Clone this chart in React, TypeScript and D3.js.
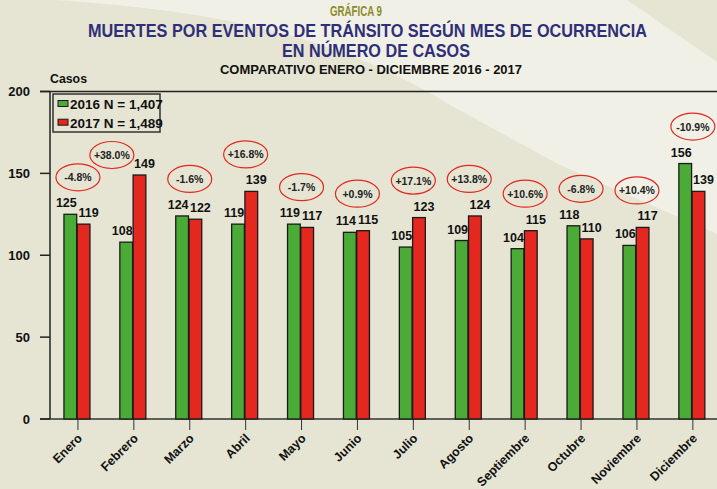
import React from "react";
import * as d3 from "d3";

const months = ["Enero", "Febrero", "Marzo", "Abril", "Mayo", "Junio", "Julio", "Agosto", "Septiembre", "Octubre", "Noviembre", "Diciembre"];
const values2016 = [125, 108, 124, 119, 119, 114, 105, 109, 104, 118, 106, 156];
const values2017 = [119, 149, 122, 139, 117, 115, 123, 124, 115, 110, 117, 139];
const seriesNames = ["2016", "2017"];
const yTicks = [0, 50, 100, 150, 200];

const W = 717;
const H = 489;
const GREEN = "#4aac36";
const RED = "#e4271f";
const NAVY = "#2f2f79";
const OLIVE = "#8c8b2c";
const BG_DARK = "#e6e5d3";
const BG_LIGHT = "#f1f0e6";
const FONT = "'Liberation Sans', Arial, sans-serif";
const NARROW = "'Liberation Sans Narrow', 'Arial Narrow', 'Liberation Sans', Arial, sans-serif";

export default function App() {
  const plotLeft = 50;
  const plotTop = 91.5;
  const plotBottom = 419;
  const y = d3.scaleLinear().domain([0, 200]).range([plotBottom, plotTop]);
  const x = d3.scaleBand<string>().domain(months).range([plotLeft, plotLeft + 12 * 55.9]).padding(0);
  const inner = d3.scaleBand<string>().domain(seriesNames).range([-14, 12]).paddingInner(0.04);
  const series = [values2016, values2017];
  const colors = [GREEN, RED];
  const totals = series.map((s) => d3.sum(s));
  const fmt = d3.format(",");

  const legend = { x: 53, y: 94, w: 107, h: 38 };

  const center = (m: string) => (x(m) as number) + x.bandwidth() / 2;

  const bgPath = d3.path();
  bgPath.moveTo(57, 0);
  bgPath.bezierCurveTo(200, 10, 330, 30, 450, 105);
  bgPath.lineTo(560, 165);
  bgPath.lineTo(717, 234);
  bgPath.lineTo(717, 62);
  bgPath.lineTo(627, 0);
  bgPath.closePath();

  const rx = 22;
  const ry = 13.5;

  return (
    <svg width={W} height={H} style={{ position: "absolute", left: 0, top: 0 }} fontFamily={FONT}>
      <rect x={0} y={0} width={W} height={H} fill={BG_DARK} />
      <path d={bgPath.toString()} fill={BG_LIGHT} />

      {/* Titles */}
      <text x={356} y={16} textAnchor="middle" fontFamily={NARROW} fontWeight="bold" fontSize={14} fill={OLIVE} textLength={52} lengthAdjust="spacingAndGlyphs">GRÁFICA 9</text>
      <text x={367.5} y={37} textAnchor="middle" fontFamily={NARROW} fontWeight="bold" fontSize={18} fill={NAVY} textLength={559} lengthAdjust="spacingAndGlyphs">MUERTES POR EVENTOS DE TRÁNSITO SEGÚN MES DE OCURRENCIA</text>
      <text x={376} y={57} textAnchor="middle" fontFamily={NARROW} fontWeight="bold" fontSize={18} fill={NAVY} textLength={188} lengthAdjust="spacingAndGlyphs">EN NÚMERO DE CASOS</text>
      <text x={371} y={74} textAnchor="middle" fontFamily={NARROW} fontWeight="bold" fontSize={12.5} fill="#111" textLength={302} lengthAdjust="spacingAndGlyphs">COMPARATIVO ENERO - DICIEMBRE 2016 - 2017</text>
      <text x={50} y={83} fontFamily={NARROW} fontWeight="bold" fontSize={12.5} fill="#111" textLength={37} lengthAdjust="spacingAndGlyphs">Casos</text>

      {/* Axes */}
      <line x1={40} x2={W} y1={y(200)} y2={y(200)} stroke="#222" strokeWidth={1.5} />
      <line x1={plotLeft} x2={plotLeft} y1={y(200)} y2={plotBottom} stroke="#222" strokeWidth={1.5} />
      <line x1={40} x2={W} y1={plotBottom} y2={plotBottom} stroke="#333" strokeWidth={1.5} />
      {yTicks.map((t) => (
        <g key={t}>
          <line x1={40} x2={plotLeft} y1={y(t)} y2={y(t)} stroke="#222" strokeWidth={1.5} />
          <text x={30} y={y(t) + 4.5} textAnchor="end" fontWeight="bold" fontSize={13} fill="#111">{t}</text>
        </g>
      ))}
      {months.map((m) => (
        <g key={m}>
          <line x1={center(m)} x2={center(m)} y1={plotBottom} y2={plotBottom + 11} stroke="#333" strokeWidth={1} />
          <text transform={`translate(${center(m) + 5},${plotBottom + 20}) rotate(-45)`} textAnchor="end" fontWeight="bold" fontSize={12.5} fill="#111">{m}</text>
        </g>
      ))}

      {/* Bars */}
      {months.map((m, i) => (
        <g key={m}>
          {series.map((s, k) => {
            const bx = center(m) + (inner(seriesNames[k]) as number);
            const bw = inner.bandwidth();
            return (
              <g key={k}>
                <rect x={bx} y={y(s[i])} width={bw} height={plotBottom - y(s[i])} fill={colors[k]} stroke="#1a1a1a" strokeWidth={1.3} />
                <text x={bx + bw / 2 + (k === 0 ? -4 : 5)} y={y(s[i]) - 7} textAnchor="middle" fontWeight="bold" fontSize={12.5} fill="#111">{s[i]}</text>
              </g>
            );
          })}
        </g>
      ))}

      {/* Percent change annotations */}
      {months.map((m, i) => {
        const a = values2016[i];
        const b = values2017[i];
        const pct = ((b - a) / a) * 100;
        const label = (pct >= 0 ? "+" : "") + pct.toFixed(1) + "%";
        let cx = center(m);
        let cy = y(Math.max(a, b)) - 37;
        const overlapsLegend =
          cx + rx > legend.x && cx - rx < legend.x + legend.w && cy - ry < legend.y + legend.h && cy + ry > legend.y;
        if (overlapsLegend) {
          cx = center(m) - 22;
          cy = y(Math.max(a, b)) - 20;
        }
        return (
          <g key={m}>
            <ellipse cx={cx} cy={cy} rx={rx} ry={ry} fill="none" stroke={RED} strokeWidth={1.2} />
            <text x={cx} y={cy + 4} textAnchor="middle" fontWeight="bold" fontSize={10.5} fill="#222">{label}</text>
          </g>
        );
      })}

      {/* Legend */}
      <rect x={legend.x} y={legend.y} width={legend.w} height={legend.h} fill="none" stroke="#333" strokeWidth={1.5} />
      {seriesNames.map((n, k) => (
        <g key={n}>
          <rect x={58} y={100.5 + k * 18.7} width={10} height={6} fill={colors[k]} stroke="#1a1a1a" strokeWidth={1} />
          <text x={70} y={109 + k * 18.7} fontWeight="bold" fontSize={13.5} fill="#111">{`${n} N = ${fmt(totals[k])}`}</text>
        </g>
      ))}
    </svg>
  );
}
